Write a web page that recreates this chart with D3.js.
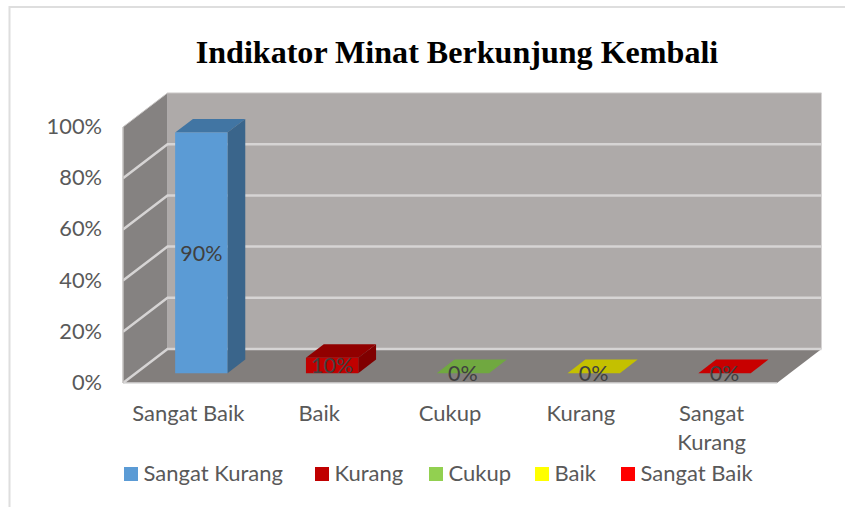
<!DOCTYPE html>
<html>
<head>
<meta charset="utf-8">
<script src="https://cdn.jsdelivr.net/npm/d3@7"></script>
<style>
	html, body { margin: 0; padding: 0; background: #fff; }
	svg { display: block; }
	text { font-family: Lato, 'Open Sans', sans-serif; }
</style>
</head>
<body>
<div id="chart"></div>
<script>
var titleText = 'Indikator Minat Berkunjung Kembali';
var categories = ['Sangat Baik', 'Baik', 'Cukup', 'Kurang', 'Sangat Kurang'];
// bar heights; the printed labels are rounded differently
var barValues = [94, 6, 0, 0, 0];
var barLabels = ['90%', '10%', '0%', '0%', '0%'];
var yTicks = [0, 20, 40, 60, 80, 100];
var legendNames = ['Sangat Kurang', 'Kurang', 'Cukup', 'Baik', 'Sangat Baik'];
var legendColors = ['#5b9bd5', '#c00000', '#92d050', '#ffff00', '#ff0000'];
var frontColors = ['#5b9bd5', '#c00000', '#70ad47', '#c4c000', '#c80000'];
var topColors = ['#4175a3', '#910000', '#70a840', '#c4c000', '#c80000'];
var sideColors = ['#3a658b', '#800000', '#5f8f3c', '#a5a200', '#a00000'];

var width = 845;
var height = 507;

var svg = d3.select('#chart').append('svg').attr('width', width).attr('height', height);

var x = d3.scaleBand().domain(categories).range([ 123, 777 ]).paddingInner(0.6).paddingOuter(0.3);
var xStep = d3.scaleBand().domain(categories).range([ 123, 777 ]);
var y = d3.scaleLinear().domain([ 0, 100 ]).range([ 383, 127 ]);

// oblique projection, z runs from 0 (front) to 1 (back wall)
var depthX = 44.5;
var depthY = 34;
var pt = (px, py, z) => [ px + z * depthX, py - z * depthY ];
var poly = (pts) => pts.map((p) => p.join(',')).join(' ');

// outer frame
svg.append('path').attr('d', 'M845,7H9.5V507').attr('fill', 'none').attr('stroke', '#dedede').attr('stroke-width', 2);

// walls and floor
var x0 = 123;
var x1 = 777;
svg.append('polygon').attr('points', poly([ pt(x0, y(100), 1), pt(x1, y(100), 1), pt(x1, y(0), 1), pt(x0, y(0), 1) ])).attr('fill', '#aeaaa9');
svg.append('polygon').attr('points', poly([ pt(x0, y(100), 0), pt(x0, y(100), 1), pt(x0, y(0), 1), pt(x0, y(0), 0) ])).attr('fill', '#858281');
svg.append('polygon').attr('points', poly([ pt(x0, y(0), 0), pt(x0, y(0), 1), pt(x1, y(0), 1), pt(x1, y(0), 0) ])).attr('fill', '#827e7c');

// gridlines
svg.append('g').selectAll('polyline').data(yTicks).enter().append('polyline')
	.attr('points', (d) => poly([ pt(x0, y(d), 0), pt(x0, y(d), 1), pt(x1, y(d), 1) ]))
	.attr('fill', 'none')
	.attr('stroke', (d) => (d === 100 ? '#c9c6c5' : '#d6d4d4'))
	.attr('stroke-width', (d) => (d === 100 ? 1 : 2.5));
svg.append('line').attr('x1', x0).attr('x2', x1).attr('y1', y(0)).attr('y2', y(0)).attr('stroke', '#d9d9d9').attr('stroke-width', 1.5);
svg.append('line').attr('x1', x0).attr('x2', x0).attr('y1', y(0)).attr('y2', y(100)).attr('stroke', '#c4c2c1').attr('stroke-width', 1.5);

// bars
var zFront = 0.29;
var zBack = 0.69;
var bars = svg.append('g').selectAll('g').data(categories).enter().append('g');

bars.each(function(cat, i) {
	var g = d3.select(this);
	var l = x(cat);
	var r = l + x.bandwidth();
	var b = y(0);
	var t = y(barValues[i]);
	g.append('polygon').attr('points', poly([ pt(l, t, zFront), pt(l, t, zBack), pt(r, t, zBack), pt(r, t, zFront) ])).attr('fill', topColors[i]);
	if (barValues[i] > 0) {
		g.append('polygon').attr('points', poly([ pt(r, t, zFront), pt(r, t, zBack), pt(r, b, zBack), pt(r, b, zFront) ])).attr('fill', sideColors[i]);
		g.append('polygon').attr('points', poly([ pt(l, t, zFront), pt(r, t, zFront), pt(r, b, zFront), pt(l, b, zFront) ])).attr('fill', frontColors[i]);
	}
	var c = pt((l + r) / 2, (t + b) / 2, zFront);
	g.append('text')
		.attr('x', c[0])
		.attr('y', c[1] + 8)
		.attr('text-anchor', 'middle')
		.attr('font-size', 21.5)
		.attr('fill', '#404040')
		.text(barLabels[i]);
});

// y axis labels
svg.append('g').selectAll('text').data(yTicks).enter().append('text')
	.attr('x', 102)
	.attr('y', (d) => y(d) + 7)
	.attr('text-anchor', 'end')
	.attr('font-size', 21.8)
	.attr('fill', '#595959')
	.text((d) => d + '%');

// category labels, wrapped on the space when the band is too narrow
var catLines = (c) => (c.length > 12 ? c.split(' ') : [ c ]);
var catText = svg.append('g').selectAll('text').data(categories).enter().append('text')
	.attr('text-anchor', 'middle')
	.attr('font-size', 22)
	.attr('fill', '#595959');
catText.selectAll('tspan').data((d) => catLines(d).map((s) => ({ s: s, c: d }))).enter().append('tspan')
	.attr('x', (d) => xStep(d.c) + xStep.bandwidth() / 2)
	.attr('y', (d, i) => 421 + i * 29)
	.text((d) => d.s);

// legend
var legendX = [ 124, 315, 429, 535, 621 ];
var legend = svg.append('g').selectAll('g').data(legendNames).enter().append('g')
	.attr('transform', (d, i) => `translate(${legendX[i]},467)`);
legend.append('rect').attr('width', 14).attr('height', 14).attr('fill', (d, i) => legendColors[i]);
legend.append('text')
	.attr('x', 19.5)
	.attr('y', 14)
	.attr('font-size', 22)
	.attr('fill', '#595959')
	.text((d) => d);

// title
svg.append('text')
	.attr('x', 457)
	.attr('y', 63)
	.attr('text-anchor', 'middle')
	.attr('font-size', 32.1)
	.attr('font-weight', 'bold')
	.attr('fill', '#000')
	.style('font-family', "'Liberation Serif', serif")
	.text(titleText);
</script>
</body>
</html>
